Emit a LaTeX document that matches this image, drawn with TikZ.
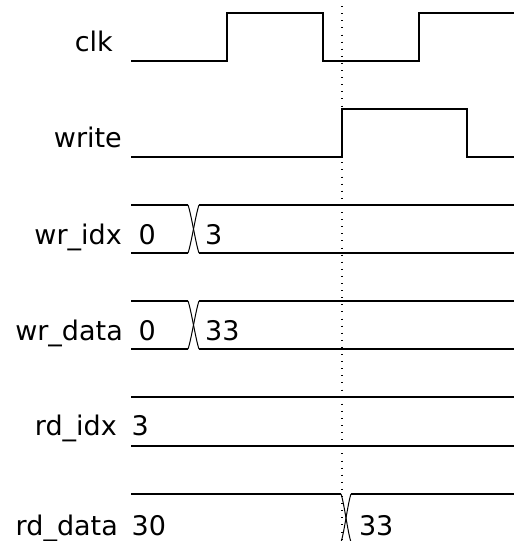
\documentclass[tikz,border=0pt]{standalone}
\usepackage{fontspec}
\setmainfont{DejaVu Sans}
\begin{document}
\begin{tikzpicture}[x=1pt,y=-1pt,
  wave/.style={line width=1.3pt, line join=miter},
  cross/.style={line width=1pt},
  txt/.style={inner sep=0pt, font=\fontsize{27}{31}\selectfont},
  lbl/.style={txt, anchor=base east},
  val/.style={txt, anchor=base west},
  marker/.style={line width=1.1pt, dash pattern=on 1pt off 6.1pt}]
\useasboundingbox (0,0) rectangle (514,541);

% cursor line
\coordinate (ctop) at (342,-1);
\coordinate (cbot) at (342,545);
\draw[marker] (ctop) -- (cbot);

% signal names
\node[lbl] (nclk)   at (113,51)      {clk};
\node[lbl] (nwr)    at (122,147)     {write};
\node[lbl] (nwidx)  at (122,244.5)   {wr\_idx};
\node[lbl] (nwdat)  at (123,340.5)   {wr\_data};
\node[lbl] (nridx)  at (117,435.5)   {rd\_idx};
\node[lbl] (nrdat)  at (118,535)     {rd\_data};

% clock
\draw[wave] (131,61) -- (227,61) -- (227,13) -- (323,13) -- (323,61)
  -- (419,61) -- (419,13) -- (515,13);

% write enable
\draw[wave] (131,157) -- (342,157) -- (342,109) -- (467,109) -- (467,157) -- (515,157);

% wr_idx bus
\draw[wave] (131,205) -- (188,205);
\draw[wave] (131,253) -- (188,253);
\draw[cross] (188,205) .. controls (191,213) and (196,245) .. (199,253);
\draw[cross] (188,253) .. controls (191,245) and (196,213) .. (199,205);
\draw[wave] (199,205) -- (515,205);
\draw[wave] (199,253) -- (515,253);
\node[val] (vwidx0) at (138.5,244.5) {0};
\node[val] (vwidx1) at (205,244.5)   {3};

% wr_data bus
\draw[wave] (131,301) -- (188,301);
\draw[wave] (131,349) -- (188,349);
\draw[cross] (188,301) .. controls (191,309) and (196,341) .. (199,349);
\draw[cross] (188,349) .. controls (191,341) and (196,309) .. (199,301);
\draw[wave] (199,301) -- (515,301);
\draw[wave] (199,349) -- (515,349);
\node[val] (vwdat0) at (138.5,340.5) {0};
\node[val] (vwdat1) at (205,340.5)   {33};

% rd_idx bus
\draw[wave] (131,397) -- (515,397);
\draw[wave] (131,446) -- (515,446);
\node[val] (vridx0) at (131.5,435.5) {3};

% rd_data bus
\draw[wave] (131,494) -- (341,494);
\draw[wave] (131,542) -- (341,542);
\draw[cross] (341,494) .. controls (344,502) and (348,534) .. (351,542);
\draw[cross] (341,542) .. controls (344,534) and (348,502) .. (351,494);
\draw[wave] (351,494) -- (515,494);
\draw[wave] (351,542) -- (515,542);
\node[val] (vrdat0) at (131.5,535) {30};
\node[val] (vrdat1) at (358.8,535) {33};
\end{tikzpicture}
\end{document}
